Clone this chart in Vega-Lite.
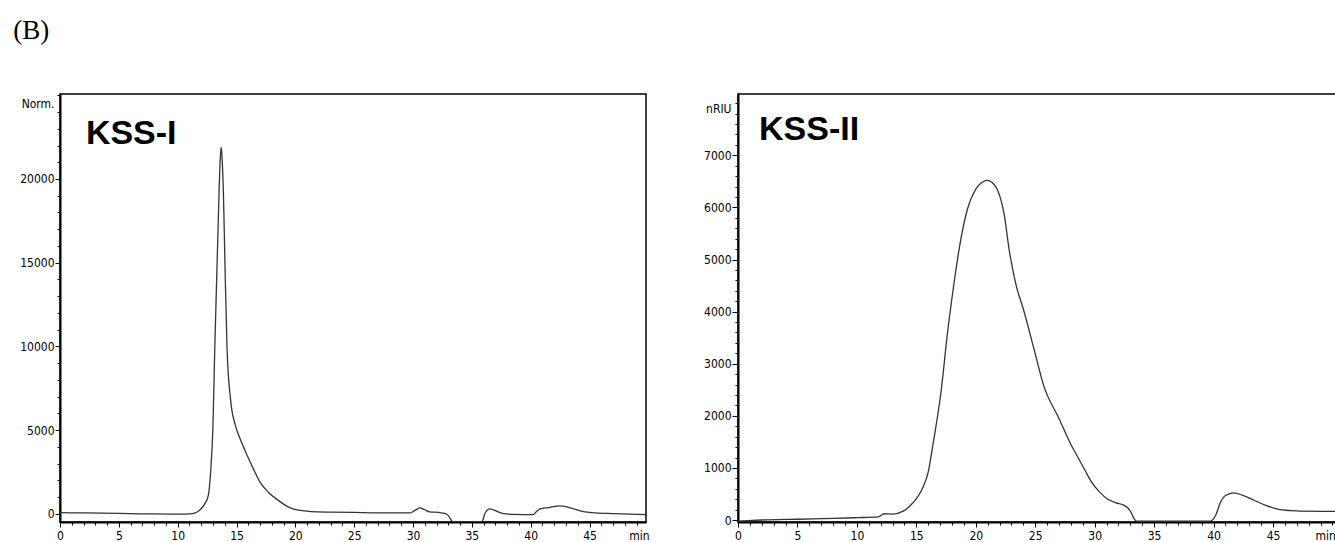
{
  "$schema": "https://vega.github.io/schema/vega-lite/v6.json",
  "padding": {"left": 13, "top": 17, "right": 0, "bottom": 0},
  "background": "white",
  "title": {"text": "(B)", "anchor": "start", "font": "Liberation Serif", "fontSize": 27, "fontWeight": "normal", "color": "black", "offset": 48, "dx": 0},
  "datasets": {
    "kss1": [
      {"t": 0, "v": 80}, {"t": 2, "v": 60}, {"t": 5, "v": 30}, {"t": 8, "v": 0}, {"t": 10, "v": -10},
      {"t": 11, "v": 0}, {"t": 11.5, "v": 60}, {"t": 11.9, "v": 250}, {"t": 12.3, "v": 600}, {"t": 12.6, "v": 1100},
      {"t": 12.8, "v": 2500}, {"t": 13.0, "v": 5300}, {"t": 13.15, "v": 9800}, {"t": 13.35, "v": 14900}, {"t": 13.5, "v": 18800},
      {"t": 13.62, "v": 21200}, {"t": 13.7, "v": 21900}, {"t": 13.78, "v": 21200}, {"t": 13.9, "v": 18800}, {"t": 14.02, "v": 14900},
      {"t": 14.2, "v": 9800}, {"t": 14.5, "v": 6800}, {"t": 14.9, "v": 5300}, {"t": 15.3, "v": 4500}, {"t": 15.9, "v": 3500},
      {"t": 16.5, "v": 2600}, {"t": 17.0, "v": 1900}, {"t": 17.7, "v": 1300}, {"t": 18.5, "v": 840}, {"t": 19.2, "v": 500},
      {"t": 19.8, "v": 300}, {"t": 20.8, "v": 180}, {"t": 21.9, "v": 120}, {"t": 23, "v": 110}, {"t": 25, "v": 90},
      {"t": 27, "v": 60}, {"t": 29.7, "v": 60}, {"t": 30.1, "v": 180}, {"t": 30.6, "v": 360}, {"t": 31.0, "v": 250},
      {"t": 31.4, "v": 120}, {"t": 32.2, "v": 90}, {"t": 32.7, "v": 30}, {"t": 33.0, "v": -100}, {"t": 33.3, "v": -420},
      {"t": 33.5, "v": -480}, {"t": 35.8, "v": -480}, {"t": 35.9, "v": -420}, {"t": 36.1, "v": 0}, {"t": 36.5, "v": 300},
      {"t": 37.0, "v": 200}, {"t": 37.6, "v": 30}, {"t": 38.5, "v": -20}, {"t": 40.2, "v": -40}, {"t": 40.5, "v": 150},
      {"t": 40.8, "v": 300}, {"t": 41.5, "v": 380}, {"t": 42.5, "v": 480}, {"t": 43.2, "v": 400}, {"t": 44.4, "v": 150},
      {"t": 45.5, "v": 60}, {"t": 47, "v": 20}, {"t": 49.8, "v": -40}
    ],
    "kss2": [
      {"t": 0, "v": -20}, {"t": 2, "v": 0}, {"t": 5, "v": 15}, {"t": 8, "v": 30}, {"t": 10, "v": 45},
      {"t": 11.8, "v": 60}, {"t": 12.3, "v": 120}, {"t": 13.0, "v": 115}, {"t": 13.9, "v": 170}, {"t": 14.5, "v": 280},
      {"t": 15.1, "v": 440}, {"t": 15.6, "v": 650}, {"t": 16.0, "v": 920}, {"t": 16.4, "v": 1450}, {"t": 17.1, "v": 2500},
      {"t": 17.6, "v": 3550}, {"t": 18.1, "v": 4430}, {"t": 18.6, "v": 5200}, {"t": 19.3, "v": 5970}, {"t": 20.0, "v": 6350},
      {"t": 20.5, "v": 6480}, {"t": 21.0, "v": 6520}, {"t": 21.5, "v": 6450}, {"t": 21.8, "v": 6350}, {"t": 22.4, "v": 5850},
      {"t": 22.8, "v": 5200}, {"t": 23.4, "v": 4500}, {"t": 24.0, "v": 4050}, {"t": 24.9, "v": 3280}, {"t": 25.7, "v": 2590},
      {"t": 27.0, "v": 1950}, {"t": 28.0, "v": 1450}, {"t": 28.6, "v": 1200}, {"t": 29.2, "v": 950}, {"t": 29.7, "v": 740},
      {"t": 30.4, "v": 540}, {"t": 31.1, "v": 400}, {"t": 31.8, "v": 330}, {"t": 32.4, "v": 290}, {"t": 32.8, "v": 230},
      {"t": 33.1, "v": 130}, {"t": 33.3, "v": 30}, {"t": 33.5, "v": -20}, {"t": 39.7, "v": -20}, {"t": 39.9, "v": 0},
      {"t": 40.2, "v": 100}, {"t": 40.6, "v": 350}, {"t": 41.0, "v": 470}, {"t": 41.7, "v": 520}, {"t": 42.4, "v": 480},
      {"t": 43.4, "v": 380}, {"t": 44.4, "v": 280}, {"t": 45.4, "v": 210}, {"t": 46.5, "v": 180}, {"t": 47.3, "v": 170},
      {"t": 50.3, "v": 165}
    ],
    "lab1": [{"t": 2.2, "v": 22100, "label": "KSS-I"}],
    "lab2": [{"t": 1.77, "v": 7290, "label": "KSS-II"}]
  },
  "spacing": 52,
  "hconcat": [
    {
      "width": 586,
      "height": 428,
      "resolve": {"axis": {"x": "independent", "y": "independent"}},
      "layer": [
        {
          "data": {"name": "kss1"},
          "mark": {"type": "line", "color": "#333333", "strokeWidth": 1.3, "clip": true, "interpolate": "monotone"},
          "encoding": {
            "x": {"field": "t", "type": "quantitative", "scale": {"domain": [0, 49.8], "nice": false, "zero": false},
              "axis": {"title": null, "orient": "bottom", "values": [0, 5, 10, 15, 20, 25, 30, 35, 40, 45, 49.2], "labelExpr": "datum.value > 49 ? 'min' : datum.label", "format": "d", "tickSize": 5, "labelPadding": 3, "labelFlush": false, "labelOverlap": false,
                "tickOpacity": {"condition": {"test": "datum.value > 49", "value": 0}, "value": 1}}},
            "y": {"field": "v", "type": "quantitative", "scale": {"domain": [-480, 25075], "nice": false, "zero": false},
              "axis": {"title": null, "orient": "left", "values": [0, 5000, 10000, 15000, 20000, 24480], "labelExpr": "datum.value > 24000 ? 'Norm.' : datum.label", "format": "d", "tickSize": 5, "labelPadding": 1, "labelFlush": false, "labelOverlap": false, "minExtent": 46,
                "tickOpacity": {"condition": {"test": "datum.value > 24000", "value": 0}, "value": 1}}}
          }
        },
        {
          "data": {"name": "lab1"},
          "mark": {"type": "text", "align": "left", "baseline": "alphabetic", "font": "Liberation Sans", "fontWeight": "bold", "fontSize": 34, "color": "black"},
          "encoding": {
            "x": {"field": "t", "type": "quantitative",
              "axis": {"title": null, "orient": "bottom", "values": [0,1,2,3,4,5,6,7,8,9,10,11,12,13,14,15,16,17,18,19,20,21,22,23,24,25,26,27,28,29,30,31,32,33,34,35,36,37,38,39,40,41,42,43,44,45,46,47,48,49], "labels": false, "domain": false, "tickSize": 3}},
            "y": {"field": "v", "type": "quantitative",
              "axis": {"title": null, "orient": "left", "values": [0,1000,2000,3000,4000,5000,6000,7000,8000,9000,10000,11000,12000,13000,14000,15000,16000,17000,18000,19000,20000,21000,22000,23000,24000,25000], "labels": false, "domain": false, "tickSize": 3, "minExtent": 46}},
            "text": {"field": "label"}
          }
        }
      ]
    },
    {
      "width": 598,
      "height": 428,
      "resolve": {"axis": {"x": "independent", "y": "independent"}},
      "layer": [
        {
          "data": {"name": "kss2"},
          "mark": {"type": "line", "color": "#333333", "strokeWidth": 1.3, "clip": true, "interpolate": "monotone"},
          "encoding": {
            "x": {"field": "t", "type": "quantitative", "scale": {"domain": [0, 50.3], "nice": false, "zero": false},
              "axis": {"title": null, "orient": "bottom", "values": [0, 5, 10, 15, 20, 25, 30, 35, 40, 45, 50.25], "labelExpr": "datum.value > 49 ? 'min' : datum.label", "format": "d", "tickSize": 5, "labelPadding": 3, "labelFlush": false, "labelOverlap": false,
                "labelAlign": {"condition": {"test": "datum.value > 49", "value": "right"}, "value": "center"},
                "tickOpacity": {"condition": {"test": "datum.value > 49", "value": 0}, "value": 1}}},
            "y": {"field": "v", "type": "quantitative", "scale": {"domain": [-38, 8177], "nice": false, "zero": false},
              "axis": {"title": null, "orient": "left", "values": [0, 1000, 2000, 3000, 4000, 5000, 6000, 7000, 7890], "labelExpr": "datum.value > 7500 ? 'nRIU' : datum.label", "format": "d", "tickSize": 6, "labelPadding": 1, "labelFlush": false, "labelOverlap": false,
                "tickOpacity": {"condition": {"test": "datum.value > 7500", "value": 0}, "value": 1}}}
          }
        },
        {
          "data": {"name": "lab2"},
          "mark": {"type": "text", "align": "left", "baseline": "alphabetic", "font": "Liberation Sans", "fontWeight": "bold", "fontSize": 34, "color": "black"},
          "encoding": {
            "x": {"field": "t", "type": "quantitative",
              "axis": {"title": null, "orient": "bottom", "values": [0,1,2,3,4,5,6,7,8,9,10,11,12,13,14,15,16,17,18,19,20,21,22,23,24,25,26,27,28,29,30,31,32,33,34,35,36,37,38,39,40,41,42,43,44,45,46,47,48,49,50], "labels": false, "domain": false, "tickSize": 3}},
            "y": {"field": "v", "type": "quantitative",
              "axis": {"title": null, "orient": "left", "values": [0,200,400,600,800,1000,1200,1400,1600,1800,2000,2200,2400,2600,2800,3000,3200,3400,3600,3800,4000,4200,4400,4600,4800,5000,5200,5400,5600,5800,6000,6200,6400,6600,6800,7000,7200,7400,7600,7800,8000], "labels": false, "domain": false, "tickSize": 3}},
            "text": {"field": "label"}
          }
        }
      ]
    }
  ],
  "config": {
    "view": {"stroke": "black", "strokeWidth": 1.5},
    "axis": {"domainColor": "black", "domainWidth": 2, "tickColor": "black", "tickWidth": 1, "grid": false, "labelFont": "Liberation Sans Narrow, DejaVu Sans Condensed, sans-serif", "labelFontSize": 12, "labelColor": "black"}
  }
}
